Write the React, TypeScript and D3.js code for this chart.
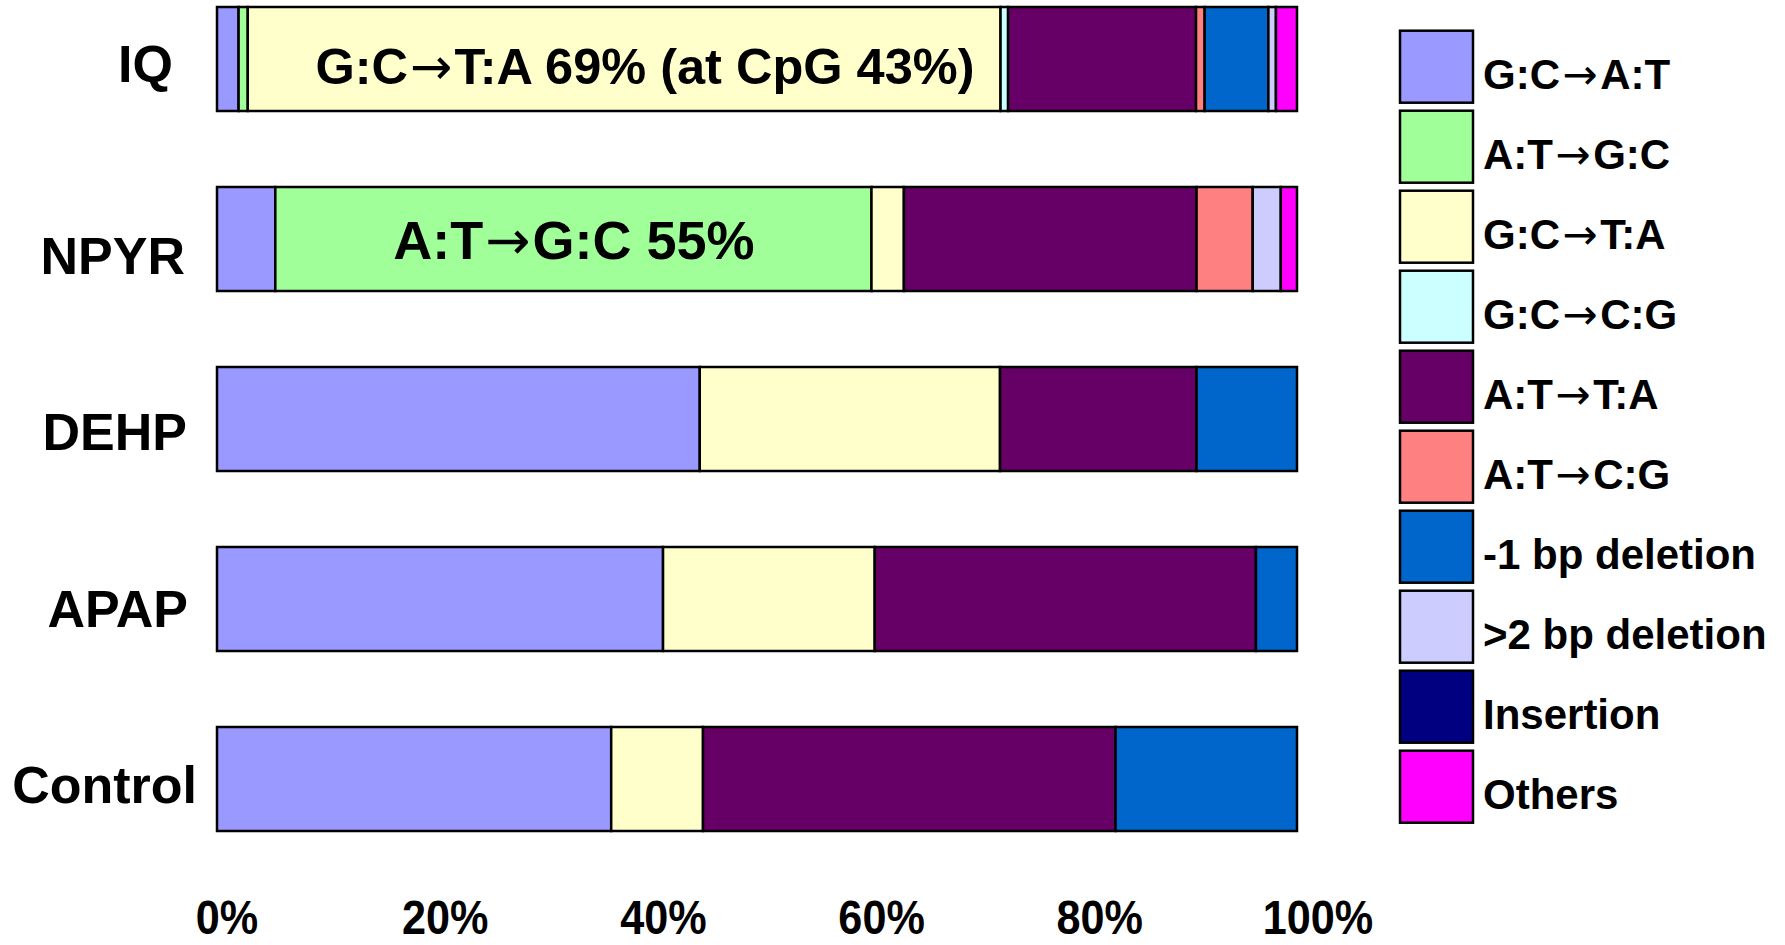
import React from "react";
import * as d3 from "d3";

const categories = ["IQ", "NPYR", "DEHP", "APAP", "Control"];
const seriesNames = [
  "G:C→A:T",
  "A:T→G:C",
  "G:C→T:A",
  "G:C→C:G",
  "A:T→T:A",
  "A:T→C:G",
  "-1 bp deletion",
  ">2 bp deletion",
  "Insertion",
  "Others",
];
const seriesColors = [
  "#9999FF",
  "#A0FF98",
  "#FFFFCC",
  "#CCFFFF",
  "#660066",
  "#FF8080",
  "#0066CC",
  "#CCCCFF",
  "#000080",
  "#FF00FF",
];
const iqValues = [2.0, 0.85, 69.7, 0.7, 17.4, 0.8, 5.9, 0.7, 0, 1.95];
const npyrValues = [5.4, 55.2, 3.0, 0, 27.1, 5.2, 0, 2.6, 0, 1.5];
const dehpValues = [44.7, 0, 27.8, 0, 18.2, 0, 9.3, 0, 0, 0];
const apapValues = [41.3, 0, 19.6, 0, 35.3, 0, 3.8, 0, 0, 0];
const controlValues = [36.5, 0, 8.5, 0, 38.2, 0, 16.8, 0, 0, 0];
const tickValues = [0, 20, 40, 60, 80, 100];
const annotations = [
  { category: "IQ", text: "G:C→T:A 69% (at CpG 43%)" },
  { category: "NPYR", text: "A:T→G:C 55%" },
];

const allValues = [iqValues, npyrValues, dehpValues, apapValues, controlValues];

// layout constants
const W = 1785;
const H = 945;
const FONT = "'Liberation Sans', Arial, Helvetica, sans-serif";
const ARROW_FONT = "'DejaVu Sans', sans-serif";
const labelDx = [-14, -2, 0, 1, 10];
const labelDy = [23, 35, 31, 28, 24];

function ArrowText({ text, pad }: { text: string; pad: number }) {
  const parts = text.split("→");
  return (
    <>
      {parts.map((p, i) => (
        <React.Fragment key={i}>
          {i > 0 && (
            <tspan fontFamily={ARROW_FONT} fontWeight="normal" dx={pad}>
              →
            </tspan>
          )}
          <tspan dx={i > 0 ? pad : 0}>{p}</tspan>
        </React.Fragment>
      ))}
    </>
  );
}

export default function App() {
  const rows = categories.map((c, i) => {
    const r: any = { category: c };
    seriesNames.forEach((s, j) => (r[s] = allValues[i][j]));
    return r;
  });
  const stacked = d3.stack().keys(seriesNames)(rows);

  const x = d3.scaleLinear().domain([0, 100]).range([217, 1297]);
  const y = d3
    .scaleBand<string>()
    .domain(categories)
    .range([7, 831])
    .paddingInner(76 / 180)
    .paddingOuter(0);
  const tickX = d3.scaleLinear().domain([0, 100]).range([227, 1318]);
  const color = d3.scaleOrdinal<string, string>().domain(seriesNames).range(seriesColors);

  const legendY = d3
    .scaleBand<string>()
    .domain(seriesNames)
    .range([30.7, 30.7 + 80 * 10])
    .paddingInner(0);

  return (
    <svg
      width={W}
      height={H}
      style={{ position: "absolute", left: 0, top: 0, display: "block", background: "#fff" }}
      fontFamily={FONT}
      fontWeight="bold"
    >
      <rect x={0} y={0} width={W} height={H} fill="#fff" />
      {/* bars */}
      {stacked.map((layer) => (
        <g key={layer.key}>
          {layer.map((d, i) => {
            const w = x(d[1]) - x(d[0]);
            if (w <= 0.01) return null;
            const cat = categories[i];
            return (
              <rect
                key={cat}
                x={x(d[0])}
                y={y(cat)}
                width={w}
                height={y.bandwidth()}
                fill={color(layer.key)}
                stroke="#000"
                strokeWidth={2.5}
              />
            );
          })}
        </g>
      ))}
      {/* annotations */}
      {annotations.map((a, i) => (
        <text
          key={a.category}
          x={i === 0 ? 645 : 574}
          y={(y(a.category) as number) + y.bandwidth() / 2 + (i === 0 ? 25 : 20)}
          textAnchor="middle"
          fontSize={i === 0 ? 50.5 : 54}
          fill="#000"
        >
          <ArrowText text={a.text} pad={2} />
        </text>
      ))}
      {/* category labels */}
      {categories.map((c, i) => (
        <text
          key={c}
          x={187 + labelDx[i]}
          y={(y(c) as number) + y.bandwidth() / 2 + labelDy[i]}
          textAnchor="end"
          fontSize={52}
          fill="#000"
        >
          {c}
        </text>
      ))}
      {/* x tick labels */}
      {tickValues.map((t) => (
        <text
          key={t}
          transform={`translate(${tickX(t)},934) scale(0.9,1)`}
          textAnchor="middle"
          fontSize={48}
          fill="#000"
        >
          {t}%
        </text>
      ))}
      {/* legend */}
      {seriesNames.map((s) => {
        const top = legendY(s) as number;
        return (
          <g key={s}>
            <rect
              x={1400}
              y={top}
              width={73}
              height={72}
              fill={color(s)}
              stroke="#000"
              strokeWidth={2.5}
            />
            <text x={1483} y={top + 58.6} fontSize={42} fill="#000">
              <ArrowText text={s} pad={2.5} />
            </text>
          </g>
        );
      })}
    </svg>
  );
}
